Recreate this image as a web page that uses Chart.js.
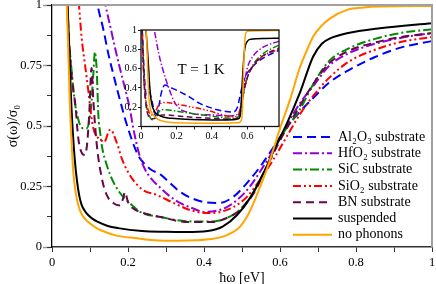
<!DOCTYPE html>
<html>
<head>
<meta charset="utf-8">
<script src="https://cdn.jsdelivr.net/npm/chart.js@4"></script>
<style>
  body { margin: 0; background: #fff; overflow: hidden; }
  #wrap { position: relative; width: 436px; height: 284px; }
  #main { position: absolute; left: 0; top: 0; }
  #inset { position: absolute; left: 120px; top: 24px; }
</style>
</head>
<body>
<div id="wrap">
  <canvas id="main" width="436" height="284"></canvas>
  <canvas id="inset" width="165" height="120"></canvas>
</div>
<script>
// series labels (legend order)
const seriesLabels = ["Al₂O₃ substrate", "HfO₂ substrate", "SiC substrate", "SiO₂ substrate", "BN substrate", "suspended", "no phonons"];

// main panel, room temperature: [ħω (eV), σ/σ0]
const al2o3 = [[0.11,1.1],[0.12,1.0],[0.135,0.9],[0.148,0.8],[0.162,0.71],[0.175,0.63],[0.187,0.56],[0.197,0.505],[0.218,0.41],[0.23,0.37],[0.24,0.35],[0.26,0.32],[0.285,0.3],[0.31,0.265],[0.337,0.228],[0.37,0.2],[0.4,0.186],[0.44,0.182],[0.477,0.207],[0.513,0.264],[0.547,0.33],[0.582,0.41],[0.62,0.5],[0.653,0.56],[0.69,0.62],[0.73,0.68],[0.78,0.73],[0.85,0.785],[0.92,0.825],[1,0.851]];
const hfo2 = [[0.13,1.1],[0.141,1.0],[0.155,0.9],[0.166,0.822],[0.18,0.73],[0.192,0.657],[0.205,0.57],[0.214,0.49],[0.23,0.38],[0.245,0.32],[0.26,0.285],[0.285,0.245],[0.31,0.21],[0.337,0.182],[0.37,0.16],[0.4,0.145],[0.434,0.15],[0.46,0.165],[0.487,0.194],[0.52,0.248],[0.555,0.33],[0.59,0.42],[0.62,0.51],[0.653,0.595],[0.69,0.67],[0.73,0.75],[0.78,0.8],[0.85,0.84],[0.92,0.865],[1,0.884]];
const sic = [[0.036,1.1],[0.04,1.0],[0.043,0.864],[0.048,0.79],[0.052,0.723],[0.06,0.6],[0.067,0.54],[0.074,0.504],[0.083,0.49],[0.091,0.49],[0.098,0.52],[0.104,0.6],[0.109,0.72],[0.113,0.806],[0.116,0.77],[0.118,0.72],[0.122,0.545],[0.127,0.47],[0.131,0.42],[0.144,0.339],[0.161,0.27],[0.179,0.223],[0.192,0.2],[0.21,0.174],[0.232,0.145],[0.285,0.124],[0.36,0.106],[0.42,0.105],[0.46,0.12],[0.495,0.155],[0.53,0.225],[0.565,0.335],[0.6,0.45],[0.653,0.57],[0.69,0.68],[0.73,0.77],[0.78,0.82],[0.85,0.86],[0.92,0.885],[1,0.9]];
const sio2 = [[0.065,1.1],[0.071,1.0],[0.078,0.864],[0.087,0.752],[0.096,0.64],[0.103,0.545],[0.109,0.49],[0.116,0.46],[0.122,0.45],[0.13,0.44],[0.138,0.434],[0.143,0.45],[0.148,0.475],[0.153,0.485],[0.157,0.483],[0.162,0.465],[0.166,0.45],[0.175,0.41],[0.183,0.368],[0.2,0.31],[0.218,0.268],[0.24,0.235],[0.276,0.215],[0.32,0.182],[0.363,0.153],[0.407,0.14],[0.442,0.145],[0.477,0.165],[0.513,0.207],[0.547,0.277],[0.582,0.36],[0.608,0.43],[0.63,0.49],[0.653,0.55],[0.69,0.63],[0.73,0.7],[0.78,0.765],[0.85,0.815],[0.92,0.848],[1,0.868]];
const bn = [[0.036,1.1],[0.04,1.0],[0.045,0.85],[0.05,0.74],[0.055,0.66],[0.062,0.58],[0.066,0.5],[0.07,0.44],[0.078,0.39],[0.086,0.38],[0.092,0.42],[0.098,0.55],[0.104,0.74],[0.109,0.6],[0.118,0.42],[0.131,0.285],[0.144,0.215],[0.161,0.182],[0.179,0.172],[0.187,0.2],[0.192,0.227],[0.2,0.186],[0.213,0.16],[0.232,0.145],[0.285,0.124],[0.36,0.103],[0.42,0.103],[0.46,0.12],[0.495,0.153],[0.53,0.22],[0.565,0.33],[0.6,0.44],[0.653,0.585],[0.69,0.68],[0.73,0.76],[0.78,0.81],[0.85,0.845],[0.92,0.868],[1,0.884]];
const suspended = [[0.037,1.1],[0.041,1.0],[0.046,0.8],[0.05,0.62],[0.055,0.47],[0.06,0.36],[0.066,0.27],[0.072,0.21],[0.078,0.174],[0.086,0.15],[0.095,0.132],[0.108,0.115],[0.121,0.104],[0.145,0.088],[0.174,0.078],[0.237,0.066],[0.3,0.063],[0.35,0.062],[0.41,0.066],[0.45,0.085],[0.487,0.132],[0.52,0.2],[0.555,0.3],[0.59,0.42],[0.618,0.51],[0.653,0.64],[0.687,0.786],[0.71,0.84],[0.732,0.862],[0.776,0.883],[0.863,0.904],[1,0.925]];
const noPhonons = [[0.035,1.1],[0.039,1.0],[0.043,0.8],[0.047,0.587],[0.051,0.45],[0.056,0.31],[0.062,0.23],[0.069,0.174],[0.08,0.13],[0.095,0.104],[0.115,0.08],[0.14,0.062],[0.17,0.047],[0.218,0.037],[0.28,0.027],[0.33,0.026],[0.38,0.028],[0.42,0.033],[0.45,0.043],[0.475,0.06],[0.495,0.084],[0.515,0.13],[0.53,0.18],[0.548,0.25],[0.565,0.32],[0.58,0.39],[0.6,0.49],[0.626,0.607],[0.653,0.745],[0.67,0.81],[0.687,0.869],[0.71,0.915],[0.732,0.945],[0.776,0.98],[0.82,0.99],[0.86,0.994],[1,0.996]];

// inset, T = 1 K
const al2o3Cold = [[0.005,1.1],[0.012,0.8],[0.02,0.5],[0.03,0.33],[0.045,0.36],[0.06,0.28],[0.075,0.15],[0.087,0.09],[0.1,0.2],[0.115,0.35],[0.135,0.43],[0.16,0.41],[0.22,0.36],[0.28,0.3],[0.332,0.24],[0.4,0.19],[0.48,0.155],[0.52,0.15],[0.545,0.2],[0.567,0.38],[0.59,0.52],[0.62,0.6],[0.66,0.67],[0.7,0.72],[0.78,0.79]];
const hfo2Cold = [[0.065,1.1],[0.075,1.0],[0.1,0.76],[0.125,0.58],[0.155,0.41],[0.19,0.25],[0.23,0.17],[0.26,0.15],[0.3,0.13],[0.4,0.12],[0.5,0.11],[0.54,0.12],[0.56,0.18],[0.58,0.4],[0.6,0.6],[0.63,0.72],[0.68,0.81],[0.78,0.885]];
const sicCold = [[0.005,1.1],[0.01,0.8],[0.018,0.45],[0.03,0.22],[0.045,0.12],[0.065,0.07],[0.085,0.1],[0.105,0.16],[0.13,0.175],[0.18,0.165],[0.25,0.145],[0.37,0.115],[0.45,0.095],[0.52,0.085],[0.55,0.1],[0.565,0.18],[0.58,0.35],[0.6,0.5],[0.63,0.63],[0.68,0.74],[0.78,0.845]];
const sio2Cold = [[0.005,1.1],[0.012,0.7],[0.02,0.4],[0.03,0.25],[0.045,0.15],[0.06,0.12],[0.08,0.15],[0.1,0.22],[0.13,0.25],[0.18,0.24],[0.276,0.205],[0.37,0.17],[0.464,0.12],[0.52,0.1],[0.55,0.12],[0.565,0.2],[0.585,0.4],[0.61,0.55],[0.65,0.66],[0.7,0.74],[0.78,0.8]];
const bnCold = [[0.005,1.1],[0.01,0.8],[0.018,0.45],[0.03,0.2],[0.045,0.1],[0.065,0.08],[0.09,0.09],[0.12,0.12],[0.15,0.12],[0.2,0.11],[0.3,0.095],[0.4,0.085],[0.5,0.075],[0.55,0.09],[0.565,0.18],[0.58,0.35],[0.6,0.5],[0.63,0.62],[0.68,0.72],[0.78,0.815]];
const suspendedCold = [[0.02,1.1],[0.03,0.95],[0.04,0.7],[0.05,0.4],[0.06,0.24],[0.075,0.16],[0.097,0.12],[0.13,0.095],[0.173,0.085],[0.25,0.075],[0.35,0.07],[0.45,0.068],[0.52,0.07],[0.55,0.08],[0.562,0.12],[0.567,0.275],[0.575,0.55],[0.586,0.8],[0.6,0.88],[0.62,0.905],[0.7,0.913],[0.78,0.914]];
const noPhononsCold = [[0.02,1.1],[0.028,1.0],[0.032,0.9],[0.041,0.41],[0.051,0.2],[0.065,0.13],[0.079,0.1],[0.1,0.07],[0.135,0.05],[0.2,0.038],[0.3,0.033],[0.45,0.033],[0.55,0.04],[0.568,0.07],[0.574,0.2],[0.58,0.6],[0.587,0.9],[0.595,0.975],[0.61,0.99],[0.78,0.995]];

const mainSeries = [al2o3, hfo2, sic, sio2, bn, suspended, noPhonons];
const coldSeries = [al2o3Cold, hfo2Cold, sicCold, sio2Cold, bnCold, suspendedCold, noPhononsCold];

// xmgrace-like colours and dash patterns
const colors = ["#0000ff", "#9400d3", "#008b00", "#ff0000", "#670748", "#000000", "#ffa500"];
const dashes = [[9, 5], [9, 3, 2, 3], [9, 3, 2, 3], [8, 3, 2, 3, 2, 3], [8, 5], [], []];

const serif = "'Liberation Serif', 'Times New Roman', serif";

function makeDatasets(series, width, scale) {
  return series.map((pts, i) => ({
    label: seriesLabels[i],
    data: pts.map(([x, y]) => ({ x: x, y: y })),
    borderColor: colors[i],
    backgroundColor: colors[i],
    borderWidth: width,
    borderDash: dashes[i].map((d) => d * scale),
    pointRadius: 0,
    fill: false,
    cubicInterpolationMode: "monotone",
    order: series.length - i,
  }));
}

// legend at lower right of main panel + gray top/right frame
const mainDecor = {
  id: "mainDecor",
  afterDraw(chart) {
    const { ctx, chartArea } = chart;
    ctx.save();
    ctx.strokeStyle = "#a0a0a0";
    ctx.lineWidth = 2;
    ctx.beginPath();
    ctx.moveTo(chartArea.left, chartArea.top);
    ctx.lineTo(chartArea.right, chartArea.top);
    ctx.lineTo(chartArea.right, chartArea.bottom);
    ctx.stroke();

    ctx.font = "14px " + serif;
    ctx.textBaseline = "middle";
    chart.data.datasets.forEach((ds, i) => {
      const y = 137 + i * 16.3;
      ctx.strokeStyle = ds.borderColor;
      ctx.lineWidth = ds.borderWidth;
      ctx.setLineDash(ds.borderDash);
      ctx.beginPath();
      ctx.moveTo(293, y);
      ctx.lineTo(332, y);
      ctx.stroke();
      ctx.setLineDash([]);
      ctx.fillStyle = "#000";
      ctx.fillText(ds.label, 338, y);
    });
    ctx.restore();
  },
};

// white plot area, black frame and temperature label for the inset
const insetDecor = {
  id: "insetDecor",
  beforeDraw(chart) {
    const { ctx, chartArea } = chart;
    ctx.save();
    ctx.fillStyle = "#fff";
    ctx.fillRect(chartArea.left, chartArea.top, chartArea.right - chartArea.left, chartArea.bottom - chartArea.top);
    ctx.restore();
  },
  afterDraw(chart) {
    const { ctx, chartArea } = chart;
    ctx.save();
    ctx.strokeStyle = "#111";
    ctx.lineWidth = 1.3;
    ctx.strokeRect(chartArea.left, chartArea.top, chartArea.right - chartArea.left, chartArea.bottom - chartArea.top);
    ctx.font = "15px " + serif;
    ctx.fillStyle = "#000";
    ctx.textAlign = "center";
    ctx.textBaseline = "middle";
    ctx.fillText("T = 1 K", 81, 46);
    ctx.restore();
  },
};

Chart.defaults.font.family = serif;
Chart.defaults.color = "#000";

new Chart(document.getElementById("main"), {
  type: "line",
  data: { datasets: makeDatasets(mainSeries, 2, 1) },
  options: {
    responsive: false,
    animation: false,
    devicePixelRatio: 1,
    layout: { padding: { left: 0, right: 4, top: 5, bottom: 0 } },
    plugins: { legend: { display: false }, tooltip: { enabled: false } },
    scales: {
      x: {
        type: "linear",
        min: 0,
        max: 1,
        afterFit: (s) => { s.height = 37; s.paddingLeft = 0; s.paddingRight = 0; },
        ticks: {
          stepSize: 0.1,
          autoSkip: false,
          maxRotation: 0,
          padding: 3,
          font: { size: 12.5 },
          callback: (v) => {
            const k = Math.round(v * 10);
            return k % 2 === 0 ? String(k / 10) : "";
          },
        },
        grid: { drawOnChartArea: false, tickLength: 5, tickColor: "#333", tickWidth: 1 },
        border: { color: "#333", width: 1.5 },
        title: { display: true, text: "ħω [eV]", font: { size: 14, lineHeight: 0.85 }, padding: 0 },
      },
      y: {
        type: "linear",
        position: "left",
        weight: 2,
        min: 0,
        max: 1,
        afterFit: (s) => { s.width = 52; s.paddingTop = 0; s.paddingBottom = 0; },
        ticks: { stepSize: 0.25, padding: 1, font: { size: 12.5 }, callback: (v) => String(v) },
        grid: { drawOnChartArea: false, tickLength: 9, tickColor: "#999", tickWidth: 1.5 },
        border: { color: "#000", width: 1.3 },
        title: { display: true, text: "σ(ω)/σ₀", font: { size: 14 }, padding: { top: 4.5, bottom: 0 } },
      },
      yMinor: {
        type: "linear",
        position: "left",
        weight: 1,
        min: 0,
        max: 1,
        afterFit: (s) => { s.width = 0; s.paddingTop = 0; s.paddingBottom = 0; },
        ticks: { stepSize: 0.125, padding: 0, callback: () => "" },
        grid: { drawOnChartArea: false, tickLength: 5, tickColor: "#333", tickWidth: 1 },
        border: { display: false },
      },
    },
  },
  plugins: [mainDecor],
});

new Chart(document.getElementById("inset"), {
  type: "line",
  data: { datasets: makeDatasets(coldSeries, 1.5, 0.7) },
  options: {
    responsive: false,
    animation: false,
    devicePixelRatio: 1,
    layout: { padding: { left: 0, right: 6, top: 6, bottom: 0 } },
    plugins: { legend: { display: false }, tooltip: { enabled: false } },
    scales: {
      x: {
        type: "linear",
        min: 0,
        max: 0.78,
        afterFit: (s) => { s.height = 17.5; s.paddingLeft = 0; s.paddingRight = 0; },
        ticks: {
          stepSize: 0.1,
          includeBounds: false,
          autoSkip: false,
          maxRotation: 0,
          padding: 1,
          font: { size: 10 },
          callback: (v) => {
            const k = Math.round(v * 10);
            return k % 2 === 0 ? String(k / 10) : "";
          },
        },
        grid: { drawOnChartArea: false, tickLength: 3, tickColor: "#222" },
        border: { display: false },
      },
      y: {
        type: "linear",
        min: 0,
        max: 1,
        afterFit: (s) => { s.width = 21; s.paddingTop = 0; s.paddingBottom = 0; },
        ticks: {
          stepSize: 0.1,
          includeBounds: false,
          padding: 1,
          font: { size: 10 },
          callback: (v) => {
            const k = Math.round(v * 10);
            return k % 2 === 0 && k > 0 ? String(k / 10) : "";
          },
        },
        grid: { drawOnChartArea: false, tickLength: 3, tickColor: "#222" },
        border: { display: false },
      },
    },
  },
  plugins: [insetDecor],
});
</script>
</body>
</html>
